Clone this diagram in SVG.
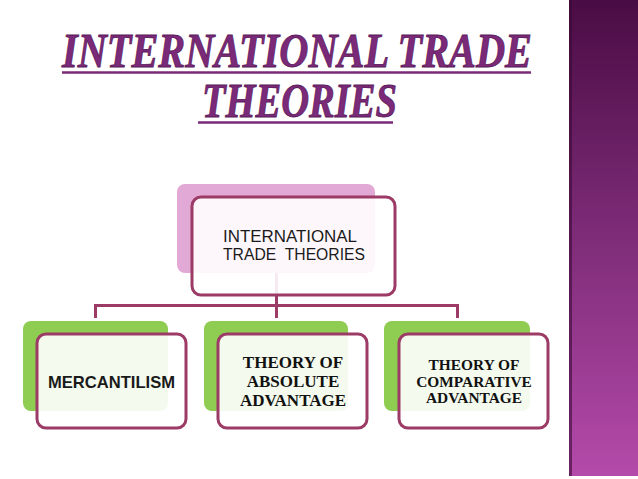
<svg xmlns="http://www.w3.org/2000/svg" width="638" height="479" viewBox="0 0 638 479">
<defs>
<linearGradient id="bar" x1="0" y1="0" x2="0" y2="1">
<stop offset="0" stop-color="#4a0c44"/>
<stop offset="0.5" stop-color="#7e2c78"/>
<stop offset="1" stop-color="#b44aaa"/>
</linearGradient>
<style>
.title{font-family:"Liberation Serif",serif;font-weight:bold;font-style:italic;font-size:48px;fill:#7a2a78;stroke:#5a1a58;stroke-width:0.8}
.uline{stroke:#7a2a78;stroke-width:2.5}
.back-p{fill:#e3a9d6}
.back-g{fill:#8fcc52}
.front{fill:#ffffff;fill-opacity:0.9;stroke:#9c3b66;stroke-width:3}
.conn{stroke:#9c3b66;stroke-width:3;fill:none}
.sans{font-family:"Liberation Sans","DejaVu Sans",sans-serif;fill:#1a1a1a}
.serif{font-family:"Liberation Serif",serif;font-weight:bold;fill:#111}
</style>
</defs>
<rect width="638" height="479" fill="#ffffff"/>
<g id="sidebar">
<rect x="569" y="0" width="69" height="476" fill="url(#bar)"/>
<rect x="569" y="0" width="3" height="476" fill="#3a0836" opacity="0.6"/>
</g>
<g id="title">
<text class="title" x="62" y="67" textLength="470" lengthAdjust="spacingAndGlyphs">INTERNATIONAL TRADE</text>
<line class="uline" x1="62" y1="72.5" x2="531" y2="72.5"/>
<text class="title" x="202" y="117" textLength="195" lengthAdjust="spacingAndGlyphs">THEORIES</text>
<line class="uline" x1="198" y1="122.5" x2="393" y2="122.5"/>
</g>
<g id="connectors">
<path class="conn" d="M276.5 273 V305.5 M95.5 318 V305.5 H457.5 V318 M276.5 305.5 V318"/>
</g>
<g id="node-root">
<rect class="back-p" x="177" y="184" width="198" height="89" rx="8"/>
<rect class="front" x="192" y="197" width="203" height="98" rx="9"/>
<text class="sans" x="223" y="242" font-size="16" textLength="134" lengthAdjust="spacingAndGlyphs">INTERNATIONAL</text>
<text class="sans" x="223" y="260" font-size="16" textLength="142" lengthAdjust="spacingAndGlyphs" xml:space="preserve">TRADE  THEORIES</text>
</g>
<g id="node-mercantilism">
<rect class="back-g" x="23" y="321" width="145" height="90" rx="8"/>
<rect class="front" x="37" y="334" width="149" height="94" rx="9"/>
<text class="sans" x="48" y="388" font-size="17" font-weight="bold" textLength="127" lengthAdjust="spacingAndGlyphs">MERCANTILISM</text>
</g>
<g id="node-absolute">
<rect class="back-g" x="204" y="321" width="144" height="90" rx="8"/>
<rect class="front" x="218" y="334" width="149" height="94" rx="9"/>
<text class="serif" font-size="17" text-anchor="middle"><tspan x="293" y="368">THEORY OF</tspan><tspan x="293" y="387">ABSOLUTE</tspan><tspan x="293" y="406">ADVANTAGE</tspan></text>
</g>
<g id="node-comparative">
<rect class="back-g" x="384" y="321" width="146" height="90" rx="8"/>
<rect class="front" x="399" y="334" width="149" height="94" rx="9"/>
<text class="serif" font-size="15.4" text-anchor="middle"><tspan x="474" y="370">THEORY OF</tspan><tspan x="474" y="387">COMPARATIVE</tspan><tspan x="474" y="403">ADVANTAGE</tspan></text>
</g>
</svg>
